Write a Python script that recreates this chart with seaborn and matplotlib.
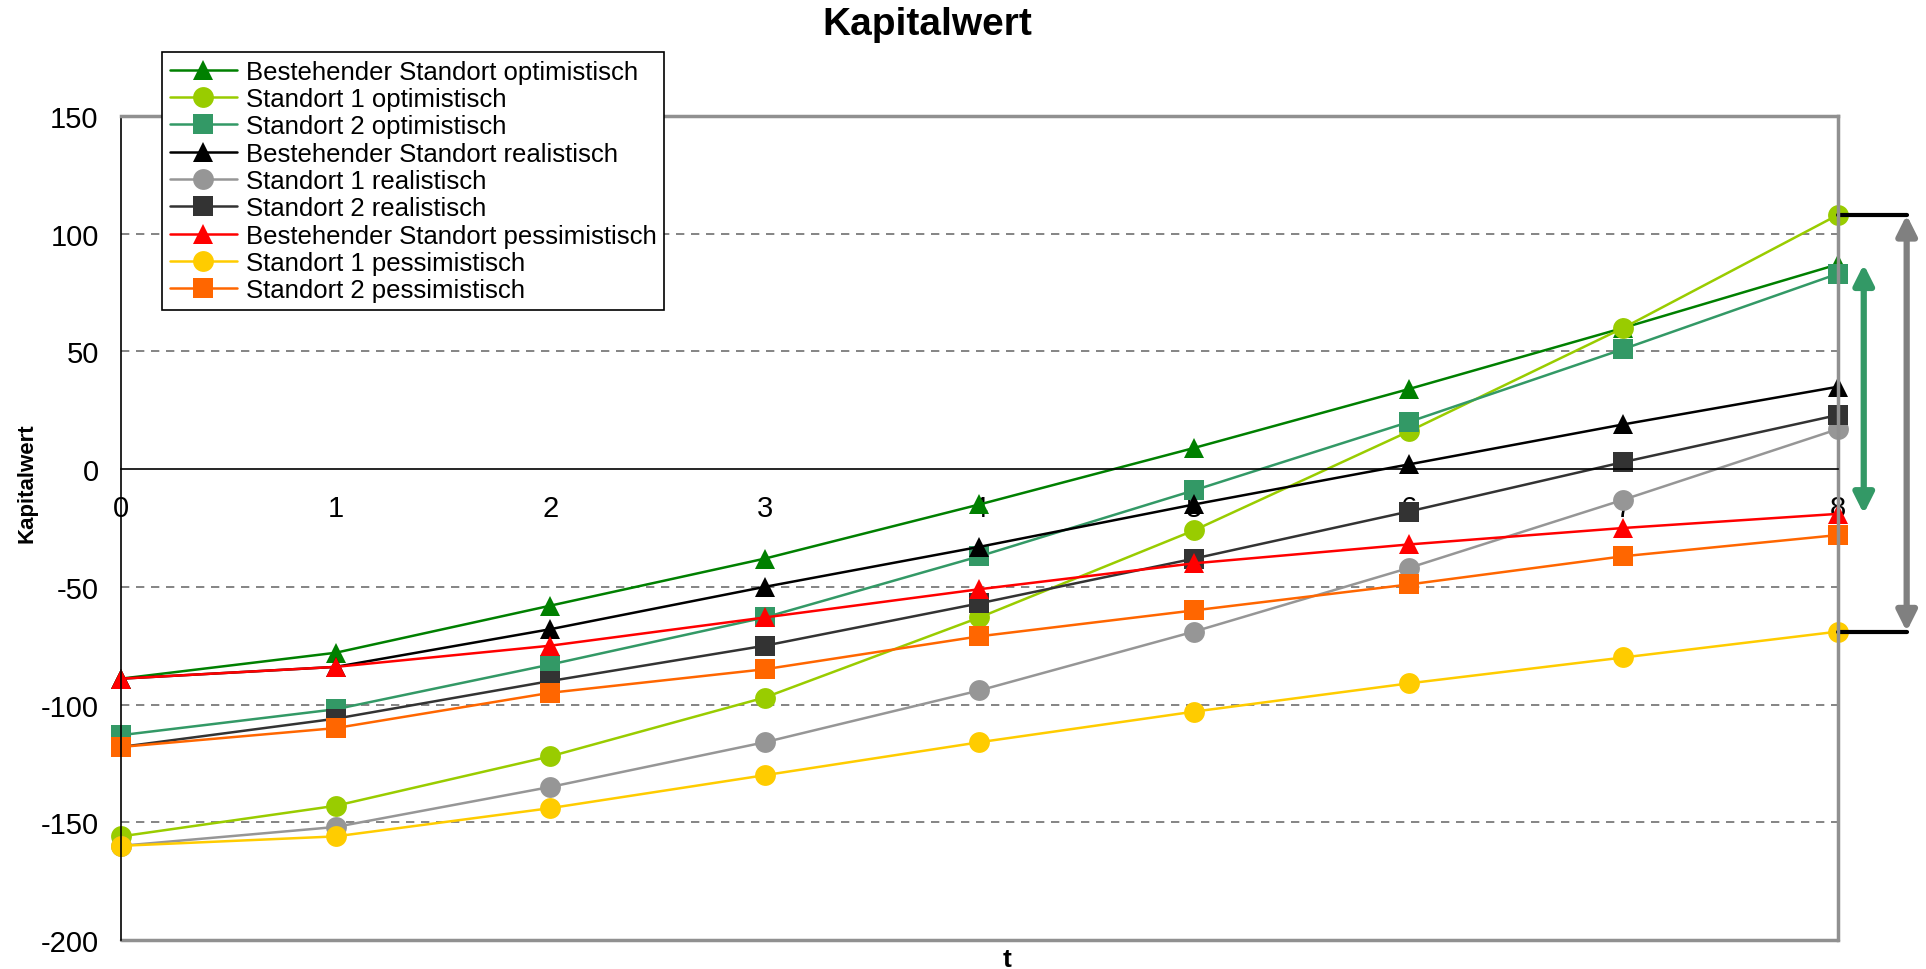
import numpy as np
import pandas as pd
import matplotlib
matplotlib.use("Agg")
import matplotlib.pyplot as plt
import seaborn as sns

# Kapitalwert je Periode t
t = [0, 1, 2, 3, 4, 5, 6, 7, 8]
best_opt = [-89, -78, -58, -38, -15, 9, 34, 60, 87]
s1_opt = [-156, -143, -122, -97, -63, -26, 16, 60, 108]
s2_opt = [-113, -102, -83, -63, -37, -9, 20, 51, 83]
best_real = [-89, -84, -68, -50, -33, -15, 2, 19, 35]
s1_real = [-160, -152, -135, -116, -94, -69, -42, -13, 17]
s2_real = [-118, -106, -90, -75, -57, -38, -18, 3, 23]
best_pes = [-89, -84, -75, -63, -51, -40, -32, -25, -19]
s1_pes = [-160, -156, -144, -130, -116, -103, -91, -80, -69]
s2_pes = [-118, -110, -95, -85, -71, -60, -49, -37, -28]

names = [
    "Bestehender Standort optimistisch",
    "Standort 1 optimistisch",
    "Standort 2 optimistisch",
    "Bestehender Standort realistisch",
    "Standort 1 realistisch",
    "Standort 2 realistisch",
    "Bestehender Standort pessimistisch",
    "Standort 1 pessimistisch",
    "Standort 2 pessimistisch",
]
series = [best_opt, s1_opt, s2_opt, best_real, s1_real, s2_real, best_pes, s1_pes, s2_pes]
colors = ["#008000", "#99CC00", "#339966", "#000000", "#969696", "#333333",
          "#FF0000", "#FFCC00", "#FF6600"]
marker_list = ["^", "o", "s", "^", "o", "s", "^", "o", "s"]

df = pd.concat(
    [pd.DataFrame({"t": t, "Kapitalwert": v, "Serie": n}) for n, v in zip(names, series)],
    ignore_index=True,
)

sns.set_style("white")
plt.rcParams["font.family"] = ["Liberation Sans", "DejaVu Sans"]
plt.rcParams["axes.unicode_minus"] = False
plt.rcParams["text.color"] = "black"
plt.rcParams["xtick.color"] = "black"
plt.rcParams["ytick.color"] = "black"

fig = plt.figure(figsize=(19.26, 9.70), dpi=100)
ax = fig.add_axes([0.0628, 0.0299, 0.8915, 0.8495])

# grid lines first so the series sit on top
for yv in [100, 50, -50, -100, -150]:
    ax.axhline(yv, color="#707070", lw=1.2, ls=(0, (5, 4)), zorder=0.5)
ax.axhline(-200, color="#909090", lw=2.5, zorder=0.6, clip_on=False)

n_before = len(ax.lines)
sns.lineplot(
    data=df, x="t", y="Kapitalwert", hue="Serie", style="Serie",
    hue_order=names, style_order=names,
    palette=dict(zip(names, colors)),
    markers=dict(zip(names, marker_list)),
    dashes=False, markersize=15, markeredgewidth=0, lw=1.8,
    legend=False, ax=ax,
)
series_lines = ax.lines[n_before:]
for ln in series_lines:
    ln.set_clip_on(False)

ax.set_xlim(0, 8)
ax.set_ylim(-200, 150)
ax.set_xticks(t)
ax.set_yticks(np.arange(-200, 151, 50))
ax.set_xlabel("")
ax.set_ylabel("")

ax.spines["bottom"].set_position(("data", 0))
ax.spines["bottom"].set_color("black")
ax.spines["bottom"].set_linewidth(1.2)
ax.spines["left"].set_color("black")
ax.spines["left"].set_linewidth(1.2)
for s in ["top", "right"]:
    ax.spines[s].set_color("#909090")
    ax.spines[s].set_linewidth(2.5)

ax.tick_params(axis="both", direction="out", length=7, width=1.2, color="black",
               labelsize=21, labelcolor="black", pad=9)
ax.tick_params(axis="x", pad=11)

# Spannweiten am Ende der Laufzeit
xr_gray = 8.32
xr_green = 8.12
ax.plot([8, xr_gray], [s1_opt[-1], s1_opt[-1]], color="black", lw=3, clip_on=False)
ax.plot([8, xr_gray], [s1_pes[-1], s1_pes[-1]], color="black", lw=3, clip_on=False)
ax.annotate("", xy=(xr_gray, s1_opt[-1]), xytext=(xr_gray, s1_pes[-1]),
            arrowprops=dict(arrowstyle="<|-|>", color="#808080", lw=4.5,
                            mutation_scale=30, shrinkA=0, shrinkB=0),
            annotation_clip=False)
ax.annotate("", xy=(xr_green, best_opt[-1]), xytext=(xr_green, best_pes[-1]),
            arrowprops=dict(arrowstyle="<|-|>", color="#339966", lw=4.5,
                            mutation_scale=30, shrinkA=0, shrinkB=0),
            annotation_clip=False)

leg = fig.legend(series_lines, names, loc="upper left",
                 bbox_to_anchor=(162 / 1926, 1 - 53 / 970), borderaxespad=0,
                 fontsize=18.5, frameon=True, fancybox=False, framealpha=1,
                 edgecolor="black", handlelength=2.6, labelspacing=0.13,
                 handletextpad=0.35, borderpad=0.3)
leg.get_frame().set_linewidth(1.2)

fig.text(927 / 1926, 1 - 25 / 970, "Kapitalwert", ha="center", va="center",
         fontsize=28, fontweight="bold")
fig.text(27 / 1926, 1 - 483 / 970, "Kapitalwert", ha="center", va="center",
         rotation=90, fontsize=16, fontweight="bold")
fig.text(1007 / 1926, 1 - 960 / 970, "t", ha="center", va="center",
         fontsize=19, fontweight="bold")

fig.savefig("out.png", dpi=100)
